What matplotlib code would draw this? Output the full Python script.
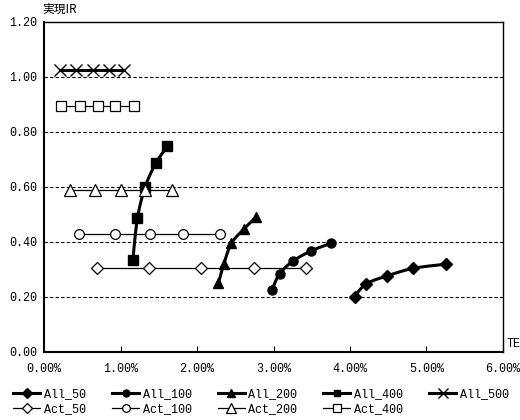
import numpy as np
import matplotlib
matplotlib.use('Agg')
import matplotlib.pyplot as plt
from matplotlib.ticker import FuncFormatter

plt.rcParams['font.family'] = ['Liberation Mono', 'Noto Sans CJK JP', 'DejaVu Sans']

# TE (%) and realised IR for each series
all_50_x = [4.06, 4.21, 4.48, 4.83, 5.25]
all_50_y = [0.201, 0.247, 0.276, 0.304, 0.319]
all_100_x = [2.98, 3.08, 3.26, 3.49, 3.75]
all_100_y = [0.225, 0.284, 0.331, 0.367, 0.395]
all_200_x = [2.28, 2.35, 2.45, 2.61, 2.77]
all_200_y = [0.250, 0.320, 0.395, 0.446, 0.490]
all_400_x = [1.16, 1.22, 1.32, 1.46, 1.61]
all_400_y = [0.335, 0.486, 0.599, 0.686, 0.747]
all_500_x = [0.21, 0.42, 0.64, 0.85, 1.05]
all_500_y = [1.025, 1.025, 1.025, 1.025, 1.025]

act_50_x = [0.69, 1.37, 2.05, 2.74, 3.42]
act_50_y = [0.307, 0.307, 0.307, 0.307, 0.307]
act_100_x = [0.45, 0.92, 1.39, 1.82, 2.30]
act_100_y = [0.428, 0.428, 0.428, 0.428, 0.428]
act_200_x = [0.34, 0.67, 1.01, 1.32, 1.67]
act_200_y = [0.587, 0.587, 0.587, 0.587, 0.587]
act_400_x = [0.22, 0.47, 0.70, 0.93, 1.17]
act_400_y = [0.895, 0.895, 0.895, 0.895, 0.895]


def smooth(x, y, n=20):
    """Catmull-Rom curve through the points, like Excel's smoothed line."""
    p = np.column_stack([x, y])
    p = np.vstack([p[0], p, p[-1]])
    out = []
    t = np.linspace(0, 1, n)[:, None]
    for i in range(1, len(p) - 2):
        p0, p1, p2, p3 = p[i - 1], p[i], p[i + 1], p[i + 2]
        seg = 0.5 * ((2 * p1) + (-p0 + p2) * t + (2 * p0 - 5 * p1 + 4 * p2 - p3) * t ** 2
                     + (-p0 + 3 * p1 - 3 * p2 + p3) * t ** 3)
        out.append(seg)
    out = np.vstack(out)
    return out[:, 0], out[:, 1]


fig = plt.figure(figsize=(5.2, 4.2), dpi=100)
ax = fig.add_axes([0.085, 0.162, 0.882, 0.786])

handles = {}

all_series = [
    ('All_50', all_50_x, all_50_y, 'D', 6.5),
    ('All_100', all_100_x, all_100_y, 'o', 6.5),
    ('All_200', all_200_x, all_200_y, '^', 7.5),
    ('All_400', all_400_x, all_400_y, 's', 6.5),
]
for name, xs, ys, mk, ms in all_series:
    sx, sy = smooth(xs, ys)
    ax.plot(sx, sy, color='black', lw=2.2, zorder=3)
    ax.plot(xs, ys, ls='none', marker=mk, ms=ms, color='black', zorder=4)
    handles[name] = ax.plot([], [], color='black', lw=2.2, marker=mk, ms=ms - 1.5)[0]

ax.plot(all_500_x, all_500_y, color='black', lw=2.2, marker='x', ms=8, mew=1.0, zorder=4)
handles['All_500'] = ax.plot([], [], color='black', lw=2.2, marker='x', ms=7, mew=1.0)[0]

act_series = [
    ('Act_50', act_50_x, act_50_y, 'D', 6.5),
    ('Act_100', act_100_x, act_100_y, 'o', 7),
    ('Act_200', act_200_x, act_200_y, '^', 8),
    ('Act_400', act_400_x, act_400_y, 's', 7),
]
for name, xs, ys, mk, ms in act_series:
    ax.plot(xs, ys, color='black', lw=0.9, marker=mk, ms=ms,
            mfc='white', mec='black', mew=0.9, zorder=5)
    handles[name] = ax.plot([], [], color='black', lw=0.9, marker=mk, ms=ms - 1.5,
                            mfc='white', mec='black', mew=0.9)[0]

ax.set_xlim(0, 6)
ax.set_ylim(0, 1.2)
ax.set_xticks(np.arange(0, 7, 1))
ax.set_yticks(np.arange(0, 1.21, 0.2))
ax.xaxis.set_major_formatter(FuncFormatter(lambda v, _: f'{v:.2f}%'))
ax.yaxis.set_major_formatter(FuncFormatter(lambda v, _: f'{v:.2f}'))
ax.tick_params(axis='x', direction='in', length=4, labelsize=8.5, pad=8)
ax.tick_params(axis='y', length=0, labelsize=8.5, pad=5)
for y in [0.2, 0.4, 0.6, 0.8, 1.0]:
    ax.axhline(y, color='black', lw=0.8, ls=(0, (3, 2)), zorder=1)
for s in ax.spines.values():
    s.set_linewidth(1.0)
ax.spines['left'].set_linewidth(1.5)
ax.spines['bottom'].set_linewidth(1.5)

fig.text(0.082, 0.962, '実現IR', fontsize=8.5, ha='left', va='bottom',
         family=['Noto Sans CJK JP', 'DejaVu Sans'])
fig.text(0.974, 0.18, 'TE', fontsize=8.5, ha='left', va='center')

order = ['All_50', 'Act_50', 'All_100', 'Act_100', 'All_200', 'Act_200',
         'All_400', 'Act_400', 'All_500']
fig.legend([handles[k] for k in order], order, ncol=5, loc='lower left',
           bbox_to_anchor=(0.012, -0.005), frameon=False, fontsize=8.5,
           handlelength=2.3, handletextpad=0.3, columnspacing=2.2,
           labelspacing=0.25, borderaxespad=0.2)

fig.savefig('out.png', dpi=100)
